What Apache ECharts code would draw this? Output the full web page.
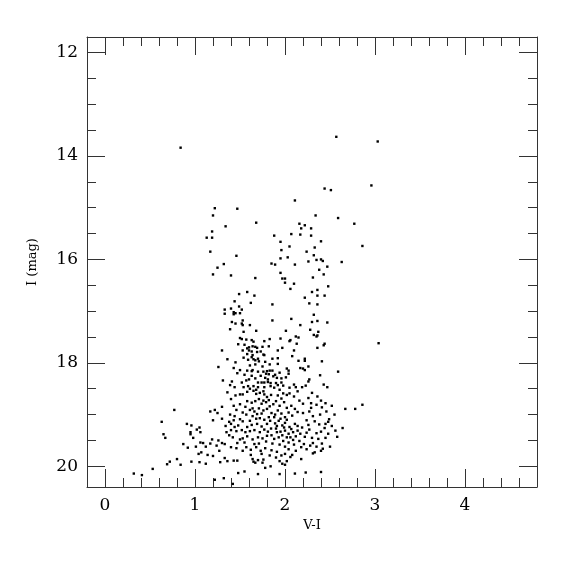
<!DOCTYPE html>
<html>
<head>
<meta charset="utf-8">
<script src="https://cdn.jsdelivr.net/npm/echarts@6/dist/echarts.min.js"></script>
<style>html,body{margin:0;padding:0;background:#fff;}#chart{width:575px;height:575px;}</style>
</head>
<body>
<div id="chart"></div>
<script>
// Axis settings
var xRange = [-0.2, 4.8];
var yRange = [11.7, 20.4];
var xName = 'V-I';
var yName = 'I (mag)';

// Points [V-I, I], grouped by region
var topPoints = [[0.84,13.84],[2.57,13.63],[3.03,13.72],[2.44,14.63],[2.51,14.66],[2.96,14.57],[2.11,14.86],[1.22,15.01],[1.47,15.02],[1.20,15.15],[2.34,15.15],[2.59,15.20],[1.68,15.29],[1.34,15.36],[2.77,15.31],[2.16,15.31],[2.22,15.34],[2.18,15.40],[2.29,15.40],[1.19,15.46],[1.13,15.58],[1.19,15.58],[1.88,15.54],[2.07,15.51],[2.17,15.52],[2.29,15.54],[2.40,15.65],[1.95,15.66],[2.86,15.74],[2.33,15.77],[2.05,15.75],[1.96,15.82],[1.17,15.85],[2.24,15.85],[1.46,15.93],[2.32,15.92],[2.03,15.96],[1.95,15.98],[2.35,16.01],[2.40,16.00],[2.42,16.03],[2.26,16.04],[2.63,16.05],[1.32,16.09],[1.25,16.16],[1.85,16.08],[1.89,16.10],[2.11,16.10],[2.47,16.14],[2.38,16.20],[1.20,16.29],[1.40,16.31],[1.95,16.26],[2.43,16.29],[1.67,16.36],[1.97,16.37],[2.00,16.37],[2.31,16.35]];

var redBranchPoints = [[2.00,16.45],[2.10,16.47],[2.06,16.57],[2.48,16.52],[2.30,16.63],[2.36,16.59],[2.36,16.70],[2.44,16.70],[2.22,16.74],[2.27,16.85],[2.36,16.87],[2.32,17.07],[2.07,17.15],[2.30,17.21],[2.36,17.19],[2.47,17.22],[2.17,17.27],[2.28,17.36],[2.37,17.40],[2.01,17.38],[2.32,17.46],[2.36,17.47],[2.35,17.49],[2.12,17.49],[2.15,17.51],[2.06,17.56],[2.05,17.58],[2.13,17.63],[2.44,17.63],[2.43,17.66],[2.36,17.71],[1.95,17.53],[3.04,17.62],[1.97,17.71],[2.10,17.76],[2.08,17.87],[2.15,17.96],[2.22,17.92],[2.22,17.96],[2.41,17.97],[2.26,18.07],[2.17,18.10],[2.20,18.11],[2.22,18.14],[2.02,18.11],[2.04,18.15],[2.59,18.17],[1.94,18.19],[2.04,18.21],[2.01,18.28],[1.96,18.30],[2.39,18.24],[2.27,18.32],[2.26,18.36],[2.10,18.42],[2.12,18.47],[2.19,18.47],[2.23,18.44],[2.43,18.42],[2.47,18.47]];

var blueBranchPoints = [[1.49,16.67],[1.58,16.63],[1.66,16.70],[1.44,16.81],[1.62,16.84],[1.86,16.87],[1.40,16.95],[1.49,16.91],[1.52,16.97],[1.33,16.97],[1.33,17.05],[1.43,17.02],[1.45,17.04],[1.43,17.06],[1.50,17.04],[1.41,17.21],[1.45,17.24],[1.53,17.18],[1.52,17.24],[1.53,17.27],[1.61,17.27],[1.86,17.18],[1.39,17.35],[1.68,17.38],[1.54,17.40],[1.50,17.52],[1.52,17.54],[1.57,17.55],[1.63,17.56],[1.65,17.59],[1.77,17.58],[1.83,17.54],[1.48,17.64],[1.55,17.65],[1.60,17.70],[1.58,17.72],[1.64,17.68],[1.67,17.69],[1.69,17.71],[1.75,17.69],[1.82,17.68],[1.53,17.76],[1.60,17.76],[1.63,17.78],[1.69,17.79],[1.73,17.78],[1.76,17.84],[1.77,17.85],[1.58,17.83],[1.64,17.85],[1.92,17.76],[1.30,17.76],[1.70,17.92],[1.67,17.95],[1.71,17.97],[1.63,17.89],[1.59,17.94],[1.65,17.93],[1.36,17.93],[1.45,17.99],[1.61,18.05],[1.67,18.03],[1.86,17.92],[1.92,17.91],[1.92,18.02],[1.83,18.03],[1.26,18.08],[1.50,18.14],[1.58,18.15],[1.63,18.16],[1.64,18.14],[1.70,18.17],[1.76,18.17],[1.79,18.21],[1.80,18.16],[1.82,18.22],[1.83,18.15],[1.86,18.15],[1.55,18.23],[1.63,18.25],[1.73,18.25],[1.87,18.26],[1.89,18.23],[1.91,18.29],[1.67,18.30],[1.78,18.29],[1.60,18.32],[1.81,18.32],[1.41,18.36],[1.52,18.38],[1.57,18.34],[1.70,18.38],[1.74,18.38],[1.77,18.38],[1.81,18.37],[1.84,18.39],[1.90,18.39],[1.39,18.43],[1.44,18.47],[1.54,18.47],[1.59,18.45],[1.65,18.45],[1.70,18.47],[1.77,18.47],[1.84,18.45],[1.88,18.48],[1.92,18.43]];

var coreLeftPoints = [[1.45,18.63],[1.50,18.61],[1.53,18.61],[1.61,18.50],[1.65,18.54],[1.68,18.52],[1.72,18.58],[1.76,18.55],[1.77,18.61],[1.40,18.70],[1.25,18.97],[1.22,18.91],[1.17,18.94],[1.20,19.11],[1.30,18.85],[1.43,18.83],[1.50,18.80],[1.46,18.91],[1.53,18.96],[1.57,19.00],[1.58,18.74],[1.67,18.74],[1.63,18.77],[1.71,18.70],[1.74,18.79],[1.76,18.73],[1.80,18.66],[1.79,18.76],[1.82,18.72],[1.61,18.91],[1.64,18.88],[1.66,18.94],[1.71,18.88],[1.76,18.92],[1.80,18.89],[1.39,19.00],[1.44,19.03],[1.50,19.09],[1.53,19.13],[1.64,19.03],[1.72,19.07],[1.77,19.10],[1.38,19.14],[1.40,19.18],[1.44,19.24],[1.48,19.21],[1.58,19.24],[1.63,19.20],[1.69,19.18],[1.74,19.23],[1.80,19.18],[1.35,19.34],[1.40,19.30],[1.46,19.32],[1.52,19.30],[1.56,19.34],[1.61,19.32],[1.66,19.30],[1.72,19.34],[1.77,19.29],[1.81,19.33],[1.24,19.60],[1.17,19.56],[1.30,19.55],[1.33,19.57],[1.20,19.80],[1.27,19.70],[1.38,19.40],[1.42,19.44],[1.50,19.48],[1.53,19.46],[1.58,19.42],[1.64,19.48],[1.70,19.44],[1.75,19.46],[1.80,19.41],[1.40,19.63],[1.46,19.65],[1.53,19.70],[1.57,19.63],[1.62,19.68],[1.68,19.63],[1.73,19.70],[1.78,19.65],[1.33,19.84],[1.36,19.90],[1.43,19.89],[1.47,19.89],[1.64,19.86],[1.70,19.88],[1.76,19.87],[1.12,19.62],[1.19,19.48],[1.26,19.50],[1.12,19.95],[1.28,19.92]];

var coreRightPoints = [[1.96,18.38],[1.94,18.52],[1.845,18.62],[1.92,18.63],[1.98,18.59],[2.02,18.62],[2.05,18.59],[2.16,18.73],[2.20,18.79],[2.26,18.68],[2.29,18.78],[2.35,18.81],[2.40,18.73],[2.45,18.78],[1.87,18.80],[1.90,18.74],[1.94,18.83],[1.99,18.76],[2.02,18.87],[2.07,18.83],[2.11,18.89],[1.85,18.97],[1.89,19.00],[1.92,18.92],[1.96,18.98],[2.00,19.05],[2.04,18.96],[2.08,19.02],[2.20,18.97],[2.27,18.94],[2.31,19.03],[2.39,19.00],[2.46,18.94],[2.49,19.09],[1.835,19.12],[1.89,19.17],[1.93,19.12],[1.97,19.21],[2.00,19.16],[2.05,19.24],[2.11,19.18],[2.14,19.22],[1.845,19.27],[1.90,19.27],[1.91,19.34],[1.95,19.33],[2.00,19.31],[2.04,19.37],[2.09,19.34],[2.14,19.31],[2.17,19.37],[2.27,19.29],[2.35,19.36],[2.40,19.33],[2.44,19.26],[1.88,19.47],[1.93,19.44],[1.98,19.51],[2.02,19.44],[2.04,19.54],[2.09,19.49],[2.16,19.51],[2.21,19.57],[2.28,19.60],[2.35,19.62],[1.85,19.69],[1.91,19.72],[1.96,19.79],[2.00,19.76],[2.04,19.67],[1.94,19.90],[2.22,19.43],[2.30,19.45],[2.37,19.47],[2.45,19.45],[2.26,19.20],[2.18,19.63],[2.24,19.67],[2.31,19.55],[2.33,19.73],[2.42,19.66],[2.12,19.70],[2.08,19.78]];

var denseCorePoints = [[1.88,19.05],[1.95,19.08],[2.02,19.10],[1.82,19.05],[1.91,19.22],[1.99,19.25],[2.07,19.28],[2.12,19.42],[2.06,19.44],[1.97,19.40],[1.85,19.40],[1.79,19.52],[1.86,19.56],[1.94,19.58],[2.10,19.58],[2.00,19.62],[1.71,19.56],[1.66,19.57],[1.83,19.79],[1.90,19.83],[2.06,19.82],[1.74,19.76],[1.62,19.78],[1.55,19.54],[1.47,19.55],[1.43,19.11],[1.34,19.22],[1.30,19.08],[1.68,19.08],[1.61,19.12],[1.74,18.98],[1.69,18.99],[1.56,18.85],[1.83,18.84],[1.96,18.69],[2.10,18.65],[2.14,18.95],[2.24,19.11],[2.33,19.13],[2.38,19.19],[2.19,19.25],[2.24,19.35],[2.29,18.87],[2.41,18.86],[2.36,18.65],[2.52,18.83],[2.55,19.00],[2.52,19.22],[2.58,19.43],[2.14,18.55],[2.30,18.58],[2.05,18.48],[1.98,18.44],[1.68,18.60],[1.58,18.56],[1.36,18.57],[1.31,18.34],[1.47,18.20],[1.43,18.10],[1.75,18.07],[1.78,17.98],[1.54,17.90]];

var bottomPoints = [[0.77,18.91],[0.63,19.14],[0.65,19.38],[0.67,19.45],[0.91,19.18],[0.96,19.21],[0.95,19.34],[0.95,19.38],[1.02,19.29],[1.05,19.25],[1.06,19.34],[0.98,19.45],[1.06,19.54],[1.09,19.55],[0.87,19.57],[0.92,19.64],[1.01,19.62],[1.07,19.73],[1.04,19.76],[1.14,19.78],[0.80,19.86],[0.84,19.97],[0.72,19.91],[0.69,19.96],[0.96,19.91],[1.05,19.92],[0.53,20.05],[0.41,20.17],[0.32,20.14],[1.22,20.26],[1.32,20.23],[1.42,20.34],[1.48,20.13],[1.55,20.10],[1.70,20.15],[1.94,20.15],[2.11,20.14],[2.23,20.12],[2.40,20.11],[1.65,19.91],[1.67,19.93],[1.75,19.93],[1.78,20.03],[1.84,20.00],[1.97,19.95],[2.00,19.97],[2.02,19.90],[2.18,19.86],[2.31,19.75],[2.40,19.70],[2.50,19.62],[2.41,19.56],[2.64,19.26],[2.56,19.31],[2.48,19.37],[2.45,19.18],[2.48,19.14],[2.67,18.89],[2.78,18.89],[2.86,18.81]];

var allPoints = [].concat(topPoints, redBranchPoints, blueBranchPoints, coreLeftPoints, coreRightPoints, denseCorePoints, bottomPoints);

var serif = 'DejaVu Serif';
var axisColor = '#333';

function baseX(show) {
  return {
    type: 'value', min: xRange[0], max: xRange[1], splitNumber: 5,
    position: show ? 'bottom' : 'top',
    axisLine: { show: true, onZero: false, lineStyle: { color: axisColor, width: 1 } },
    axisTick: { show: true, inside: true, length: 18, lineStyle: { color: axisColor } },
    minorTick: { show: true, splitNumber: 5, length: 9, lineStyle: { color: axisColor } },
    splitLine: { show: false },
    axisLabel: { show: show, margin: 10, fontFamily: serif, fontSize: 17, color: '#000',
      formatter: function (v) { return Math.abs(v - Math.round(v)) < 1e-6 ? String(Math.round(v)) : ''; } },
    name: show ? xName : '', nameLocation: 'middle', nameGap: 30,
    nameTextStyle: { fontFamily: serif, fontSize: 13, color: '#000' }
  };
}
function baseY(show) {
  return {
    type: 'value', min: yRange[0], max: yRange[1], inverse: true, splitNumber: 5,
    position: show ? 'left' : 'right',
    axisLine: { show: true, onZero: false, lineStyle: { color: axisColor, width: 1 } },
    axisTick: { show: true, inside: true, length: 18, lineStyle: { color: axisColor } },
    minorTick: { show: true, splitNumber: 4, length: 9, lineStyle: { color: axisColor } },
    splitLine: { show: false },
    axisLabel: { show: show, margin: 9, fontFamily: serif, fontSize: 17, color: '#000',
      formatter: function (v) { var r = Math.round(v); return (Math.abs(v - r) < 1e-6 && r % 2 === 0) ? String(r) : ''; } },
    name: show ? yName : '', nameLocation: 'middle', nameGap: 48,
    nameTextStyle: { fontFamily: serif, fontSize: 13, color: '#000' }
  };
}

var chart = echarts.init(document.getElementById('chart'), null, { renderer: 'canvas' });
chart.setOption({
  animation: false,
  backgroundColor: '#fff',
  grid: { left: 87, right: 38, top: 37, bottom: 88, containLabel: false },
  xAxis: [baseX(true), baseX(false)],
  yAxis: [baseY(true), baseY(false)],
  series: [{
    type: 'scatter', xAxisIndex: 0, yAxisIndex: 0,
    symbol: 'rect', symbolSize: 2.4,
    itemStyle: { color: '#000', opacity: 1 },
    data: allPoints
  }]
});
</script>
</body>
</html>
